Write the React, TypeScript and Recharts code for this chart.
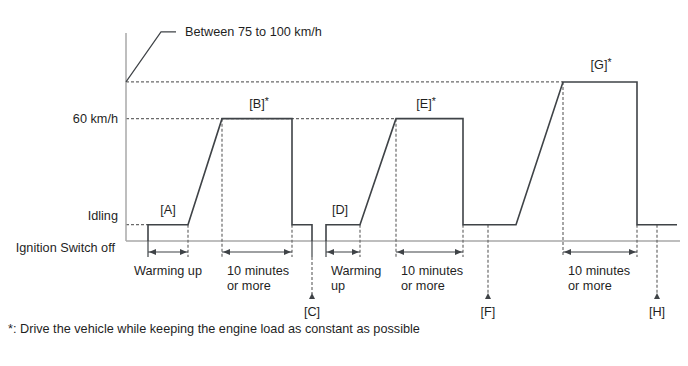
import { ComposedChart, Line, XAxis, YAxis, ReferenceLine, ReferenceDot } from "recharts";

const FONT = "'Liberation Sans', Arial, sans-serif";
const TEXT = "#1f1f1f";
const INK = "#3f4347";
const DASH = "#6a6a6a";
const AXIS = "#a8a8a8";

// drive pattern: time (arbitrary units) vs vehicle speed level
const phase1Time = [22, 22, 62, 96, 166, 166, 186, 186];
const phase1Speed = [0, 8, 8, 60, 60, 8, 8, 0];
const phase2Time = [200, 200, 234, 270, 337, 337, 390, 437, 511, 511, 551];
const phase2Speed = [0, 8, 8, 60, 60, 8, 8, 78, 78, 8, 8];

const speedTicks = [0, 8, 60];
const speedTickLabels = ["Ignition Switch off", "Idling", "60 km/h"];
const highLabel = "Between 75 to 100 km/h";

const stageNames = ["[A]", "[B]", "[D]", "[E]", "[G]"];
const stageStar = [false, true, false, true, true];
const stageTime = [42, 133, 214, 300, 475];
const stageSpeed = [8, 60, 8, 60, 78];

const spanStart = [22, 96, 200, 270, 437];
const spanEnd = [62, 166, 234, 337, 511];
const spanLabels = [["Warming up"], ["10 minutes", "or more"], ["Warming", "up"], ["10 minutes", "or more"], ["10 minutes", "or more"]];

const extTime = [22, 62, 96, 166, 200, 234, 270, 337, 437, 511];
const extSpeed = [0, 8, 60, 8, 0, 8, 60, 8, 78, 8];

const markerNames = ["[C]", "[F]", "[H]"];
const markerTime = [186, 362, 531];
const markerSpeed = [0, 8, 8];

const guideSpeed = [8, 60, 78];
const guideEnd = [22, 270, 437];

const footnote = "*: Drive the vehicle while keeping the engine load as constant as possible";

const phase1 = phase1Time.map((t, i) => ({ t, v: phase1Speed[i] }));
const phase2 = phase2Time.map((t, i) => ({ t, v: phase2Speed[i] }));

const textProps = { fontFamily: FONT, fontSize: 12.7, fill: TEXT };

function SpeedTick(props: any) {
  const { x, y, payload } = props;
  const i = speedTicks.indexOf(payload.value);
  const dy = [11, -5, 4][i];
  const dx = [-3, 0, 0][i];
  return (
    <text x={x + dx} y={y + dy} textAnchor="end" {...textProps}>
      {speedTickLabels[i]}
    </text>
  );
}

function Arrowhead({ x, y, dir }: { x: number; y: number; dir: "left" | "right" | "up" }) {
  let pts = "";
  if (dir === "left") pts = `${x},${y} ${x + 7},${y - 3} ${x + 7},${y + 3}`;
  if (dir === "right") pts = `${x},${y} ${x - 7},${y - 3} ${x - 7},${y + 3}`;
  if (dir === "up") pts = `${x},${y} ${x - 3},${y + 6} ${x + 3},${y + 6}`;
  return <polygon points={pts} fill={INK} />;
}

export default function App() {
  return (
    <div style={{ position: "absolute", left: 0, top: 0, width: 688, height: 366, background: "#fff" }}>
      <ComposedChart width={688} height={366} margin={{ top: 33, right: 8, bottom: 125, left: 0 }}>
        <XAxis type="number" dataKey="t" domain={[0, 554]} hide allowDuplicatedCategory={false} />
        <YAxis
          type="number"
          domain={[0, 102]}
          ticks={speedTicks}
          width={126}
          axisLine={{ stroke: AXIS, strokeWidth: 1.5 }}
          tickLine={false}
          tick={<SpeedTick />}
          interval={0}
        />
        <ReferenceLine y={0} stroke={AXIS} strokeWidth={1.5} />

        {guideSpeed.map((v, i) => (
          <ReferenceLine
            key={`g${i}`}
            segment={[{ x: 0, y: v }, { x: guideEnd[i], y: v }]}
            stroke={DASH}
            strokeWidth={1.2}
            strokeDasharray="3 2"
          />
        ))}

        {extTime.map((t, i) => (
          <ReferenceLine
            key={`e${i}`}
            segment={[{ x: t, y: extSpeed[i] }, { x: t, y: 0 }]}
            shape={(p: any) => (
              <line
                x1={p.x1}
                y1={p.y1}
                x2={p.x2}
                y2={p.y2 + 16}
                stroke={extSpeed[i] === 0 ? INK : DASH}
                strokeWidth={1.2}
                strokeDasharray={extSpeed[i] === 0 ? undefined : "3 2"}
              />
            )}
          />
        ))}

        {spanStart.map((s, i) => (
          <ReferenceLine
            key={`s${i}`}
            segment={[{ x: s, y: 0 }, { x: spanEnd[i], y: 0 }]}
            shape={(p: any) => {
              const y = p.y1 + 11;
              const centered = i === 0;
              const tx = centered ? (p.x1 + p.x2) / 2 : p.x1 + 5;
              return (
                <g>
                  <line x1={p.x1} y1={y} x2={p.x2} y2={y} stroke={INK} strokeWidth={1.2} />
                  <Arrowhead x={p.x1 + 1} y={y} dir="left" />
                  <Arrowhead x={p.x2 - 1} y={y} dir="right" />
                  {spanLabels[i].map((l, j) => (
                    <text key={j} x={tx} y={p.y1 + 34 + j * 14.5} textAnchor={centered ? "middle" : "start"} {...textProps}>
                      {l}
                    </text>
                  ))}
                </g>
              );
            }}
          />
        ))}

        {markerTime.map((t, i) => (
          <ReferenceLine
            key={`m${i}`}
            segment={[{ x: t, y: markerSpeed[i] }, { x: t, y: 0 }]}
            shape={(p: any) => {
              const solid = markerSpeed[i] === 0;
              return (
                <g>
                  {solid && <line x1={p.x1} y1={p.y2} x2={p.x1} y2={p.y2 + 16} stroke={INK} strokeWidth={1.2} />}
                  <line
                    x1={p.x1}
                    y1={solid ? p.y2 + 16 : p.y1}
                    x2={p.x1}
                    y2={p.y2 + 53}
                    stroke={DASH}
                    strokeWidth={1.2}
                    strokeDasharray="3 2"
                  />
                  <Arrowhead x={p.x1} y={p.y2 + 52} dir="up" />
                  <text x={p.x1} y={p.y2 + 75} textAnchor="middle" {...textProps}>
                    {markerNames[i]}
                  </text>
                </g>
              );
            }}
          />
        ))}

        <Line data={phase1} dataKey="v" type="linear" stroke={INK} strokeWidth={1.6} dot={false} isAnimationActive={false} />
        <Line data={phase2} dataKey="v" type="linear" stroke={INK} strokeWidth={1.6} dot={false} isAnimationActive={false} />

        {stageNames.map((n, i) => (
          <ReferenceDot
            key={`n${i}`}
            x={stageTime[i]}
            y={stageSpeed[i]}
            shape={(p: any) => (
              <text x={p.cx} y={p.cy - (i === 4 ? 13 : 11)} textAnchor="middle" {...textProps}>
                {n}
                {stageStar[i] && (
                  <tspan fontSize={10.5} dy={-3}>
                    *
                  </tspan>
                )}
              </text>
            )}
          />
        ))}

        <ReferenceDot
          x={0}
          y={78}
          shape={(p: any) => (
            <g>
              <polyline
                points={`${p.cx},${p.cy} ${p.cx + 35},${p.cy - 50} ${p.cx + 50},${p.cy - 50}`}
                fill="none"
                stroke={INK}
                strokeWidth={1.2}
              />
              <text x={p.cx + 59} y={p.cy - 45.5} {...textProps}>
                {highLabel}
              </text>
            </g>
          )}
        />
      </ComposedChart>
      <div style={{ position: "absolute", left: 8, top: 322, fontFamily: FONT, fontSize: 12.7, color: TEXT, whiteSpace: "nowrap" }}>
        {footnote}
      </div>
    </div>
  );
}
